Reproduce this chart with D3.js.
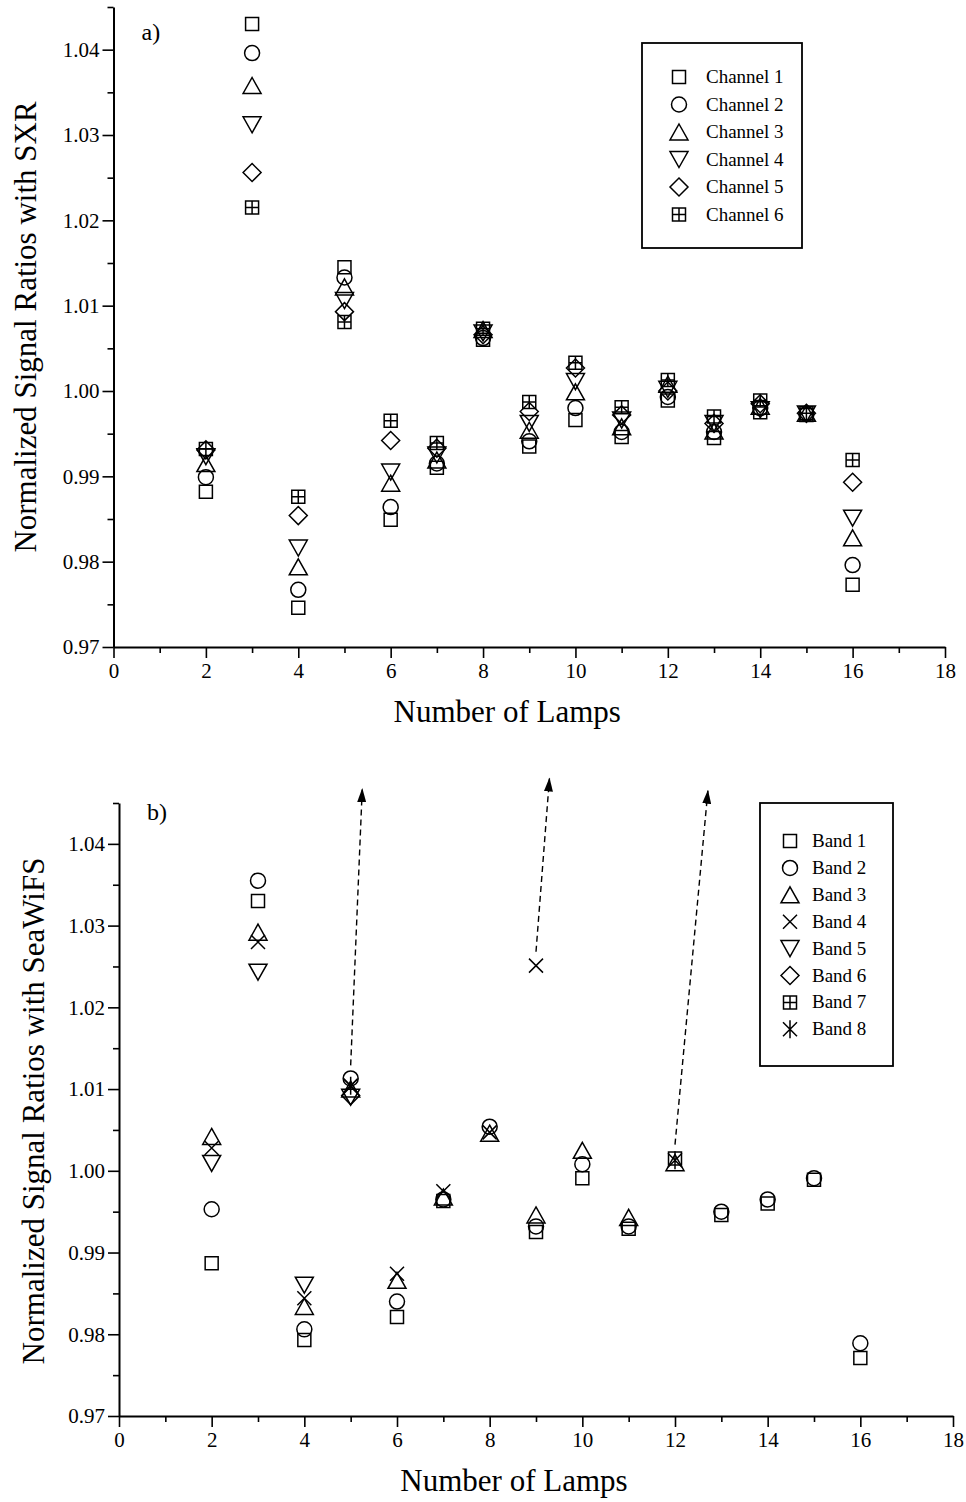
<!DOCTYPE html>
<html>
<head>
<meta charset="utf-8">
<script src="https://cdn.jsdelivr.net/npm/d3@7"></script>
<style>
  body { margin: 0; background: #fff; }
  svg text { font-family: "Liberation Serif", "Times New Roman", serif; fill: #000; }
</style>
</head>
<body>
<svg id="viz_area" width="966" height="1502"></svg>
<script>
// x values shared by both panels
const lamps = [2, 3, 4, 5, 6, 7, 8, 9, 10, 11, 12, 13, 14, 15, 16];

// panel a) ratios with SXR, one array per channel
const channel1 = [0.9882, 1.0430, 0.9746, 1.0145, 0.9849, 0.9910, 1.0060, 0.9935, 0.9966, 0.9946, 0.9989, 0.9945, 0.9975, 0.9972, 0.9773];
const channel2 = [0.9899, 1.0396, 0.9767, 1.0133, 0.9864, 0.9915, 1.0062, 0.9941, 0.9980, 0.9952, 0.9993, 0.9952, 0.9980, 0.9973, 0.9796];
const channel3 = [0.9915, 1.0358, 0.9794, 1.0122, 0.9892, 0.9919, 1.0072, 0.9954, 0.9999, 0.9958, 1.0008, 0.9953, 0.9982, 0.9974, 0.9828];
const channel4 = [0.9923, 1.0312, 0.9816, 1.0106, 0.9905, 0.9925, 1.0068, 0.9962, 1.0011, 0.9966, 1.0002, 0.9962, 0.9978, 0.9973, 0.9851];
const channel5 = [0.9931, 1.0256, 0.9854, 1.0093, 0.9942, 0.9933, 1.0066, 0.9976, 1.0027, 0.9972, 1.0000, 0.9962, 0.9985, 0.9974, 0.9893];
const channel6 = [0.9932, 1.0215, 0.9876, 1.0081, 0.9965, 0.9939, 1.0073, 0.9987, 1.0033, 0.9981, 1.0013, 0.9970, 0.9989, 0.9974, 0.9919];

// panel b) ratios with SeaWiFS, null = no point
const band1 = [0.9887, 1.0330, 0.9793, null, 0.9821, 0.9963, null, 0.9925, 0.9991, 0.9929, 1.0015, 0.9946, 0.9960, 0.9989, 0.9771];
const band2 = [0.9953, 1.0355, 0.9806, 1.0113, 0.9840, 0.9965, 1.0054, 0.9932, 1.0008, 0.9932, null, 0.9950, 0.9965, 0.9991, 0.9789];
const band3 = [1.0042, 1.0292, 0.9834, 1.0100, 0.9866, 0.9968, 1.0046, 0.9946, 1.0025, 0.9943, 1.0010, null, null, null, null];
const band4 = [1.0028, 1.0280, 0.9844, 1.0104, 0.9874, 0.9975, 1.0047, 1.0251, null, null, null, null, null, null, null];
const band5 = [1.0009, 1.0243, 0.9860, 1.0090, null, null, null, null, null, null, null, null, null, null, null];
const band6 = [null, null, null, 1.0092, null, null, null, null, null, null, null, null, null, null, null];
const band7 = [null, null, null, null, null, null, null, null, null, null, null, null, null, null, null];
const band8 = [null, null, null, 1.0104, null, null, null, null, null, null, 1.0013, null, null, null, null];

// off-scale arrows in panel b: [x0, y0, x1, y1]
const arrowsB = [[5, 1.0129, 5.25, 1.0467], [9, 1.0268, 9.29, 1.0480], [12, 1.0032, 12.71, 1.0465]];

const channelNames = ["Channel 1", "Channel 2", "Channel 3", "Channel 4", "Channel 5", "Channel 6"];
const bandNames = ["Band 1", "Band 2", "Band 3", "Band 4", "Band 5", "Band 6", "Band 7", "Band 8"];

const xTicks = [0, 2, 4, 6, 8, 10, 12, 14, 16, 18];
const yTicks = [0.97, 0.98, 0.99, 1.00, 1.01, 1.02, 1.03, 1.04];

// marker shapes, drawn around (0,0)
const shapes = {
  square: "M-6.5,-6.5H6.5V6.5H-6.5Z",
  circle: "M7.5,0A7.5,7.5 0 1,1 -7.5,0A7.5,7.5 0 1,1 7.5,0Z",
  up: "M0,-8L9,8H-9Z",
  down: "M0,8L9,-8H-9Z",
  diamond: "M0,-9L9,0L0,9L-9,0Z",
  plusSquare: "M-6.5,-6.5H6.5V6.5H-6.5ZM0,-6.5V6.5M-6.5,0H6.5",
  cross: "M-7,-7L7,7M7,-7L-7,7",
  star: "M-7,-7L7,7M7,-7L-7,7M0,-9V9"
};

const svg = d3.select("#viz_area");

// arrow head for the dashed off-scale arrows
svg.append("defs").append("marker")
  .attr("id", "head")
  .attr("viewBox", "0 0 14 9")
  .attr("refX", 13).attr("refY", 4.5)
  .attr("markerWidth", 14).attr("markerHeight", 9)
  .attr("markerUnits", "userSpaceOnUse")
  .attr("orient", "auto")
  .append("path").attr("d", "M0,0L14,4.5L0,9Z").attr("fill", "#000");

function drawPanel(cfg) {
  const x = d3.scaleLinear().domain([0, 18]).range(cfg.xr);
  const y = d3.scaleLinear().domain([0.97, 1.045]).range(cfg.yr);
  const g = svg.append("g");

  // minor ticks
  g.append("g")
    .attr("transform", `translate(0,${cfg.yr[0]})`)
    .call(d3.axisBottom(x).tickValues(d3.range(1, 18, 2)).tickSize(6).tickFormat(""))
    .call(a => a.select(".domain").remove());
  g.append("g")
    .attr("transform", `translate(${cfg.xr[0]},0)`)
    .call(d3.axisLeft(y).tickValues(d3.range(0, 8).map(i => 0.975 + i * 0.01)).tickSize(6).tickFormat(""))
    .call(a => a.select(".domain").remove());

  // major ticks + axis lines
  const xa = g.append("g")
    .attr("transform", `translate(0,${cfg.yr[0]})`)
    .call(d3.axisBottom(x).tickValues(xTicks).tickSize(11).tickSizeOuter(0).tickPadding(5));
  xa.selectAll("text").style("font-size", "21px");
  const ya = g.append("g")
    .attr("transform", `translate(${cfg.xr[0]},0)`)
    .call(d3.axisLeft(y).tickValues(yTicks).tickSize(11).tickSizeOuter(0).tickPadding(3).tickFormat(d3.format(".2f")));
  ya.selectAll("text").style("font-size", "21px");
  g.selectAll(".domain").attr("stroke-width", 2);
  g.selectAll(".tick line").attr("stroke-width", 1.6);

  // titles
  g.append("text")
    .attr("x", (cfg.xr[0] + cfg.xr[1]) / 2 - 22)
    .attr("y", cfg.yr[0] + 75)
    .attr("text-anchor", "middle")
    .style("font-size", "31px")
    .text("Number of Lamps");
  g.append("text")
    .attr("transform", `translate(${cfg.ytx},${cfg.yty}) rotate(-90)`)
    .attr("text-anchor", "middle")
    .style("font-size", "31px")
    .text(cfg.ytitle);
  g.append("text")
    .attr("x", cfg.xr[0] + 28)
    .attr("y", cfg.labelY)
    .style("font-size", "24px")
    .text(cfg.label);

  // points
  cfg.series.forEach((vals, si) => {
    g.append("g").selectAll("path")
      .data(lamps.map((l, i) => [l, vals[i]]).filter(d => d[1] != null))
      .enter().append("path")
      .attr("transform", d => `translate(${x(d[0])},${y(d[1])})`)
      .attr("d", shapes[cfg.shapes[si]])
      .attr("fill", "none")
      .attr("stroke", "#000")
      .attr("stroke-width", 1.5);
  });

  // legend
  const lg = g.append("g");
  lg.append("rect")
    .attr("x", cfg.legend.x).attr("y", cfg.legend.y)
    .attr("width", cfg.legend.w).attr("height", cfg.legend.h)
    .attr("fill", "#fff").attr("stroke", "#000").attr("stroke-width", 1.8);
  cfg.names.forEach((n, i) => {
    const ry = cfg.legend.row0 + i * cfg.legend.step;
    lg.append("path")
      .attr("transform", `translate(${cfg.legend.x + cfg.legend.sx},${ry})`)
      .attr("d", shapes[cfg.shapes[i]])
      .attr("fill", "none").attr("stroke", "#000").attr("stroke-width", 1.5);
    lg.append("text")
      .attr("x", cfg.legend.x + cfg.legend.tx)
      .attr("y", ry + 6)
      .style("font-size", "19px")
      .text(n);
  });

  return {g, x, y};
}

drawPanel({
  xr: [113.5, 945], yr: [647, 7],
  ytitle: "Normalized Signal Ratios with SXR", ytx: 36, yty: 327,
  label: "a)", labelY: 40,
  series: [channel1, channel2, channel3, channel4, channel5, channel6],
  shapes: ["square", "circle", "up", "down", "diamond", "plusSquare"],
  names: channelNames,
  legend: {x: 642, y: 43, w: 160, h: 205, row0: 77, step: 27.5, sx: 37, tx: 64}
});

const pb = drawPanel({
  xr: [119, 953], yr: [1416, 803],
  ytitle: "Normalized Signal Ratios with SeaWiFS", ytx: 44, yty: 1111,
  label: "b)", labelY: 820,
  series: [band1, band2, band3, band4, band5, band6, band7, band8],
  shapes: ["square", "circle", "up", "cross", "down", "diamond", "plusSquare", "star"],
  names: bandNames,
  legend: {x: 760, y: 803, w: 133, h: 263, row0: 841, step: 26.9, sx: 30, tx: 52}
});

// dashed arrows pointing to off-scale values
pb.g.append("g").selectAll("line")
  .data(arrowsB)
  .enter().append("line")
  .attr("x1", d => pb.x(d[0])).attr("y1", d => pb.y(d[1]))
  .attr("x2", d => pb.x(d[2])).attr("y2", d => pb.y(d[3]))
  .attr("stroke", "#000").attr("stroke-width", 1.4)
  .attr("stroke-dasharray", "6,4")
  .attr("marker-end", "url(#head)");
</script>
</body>
</html>
